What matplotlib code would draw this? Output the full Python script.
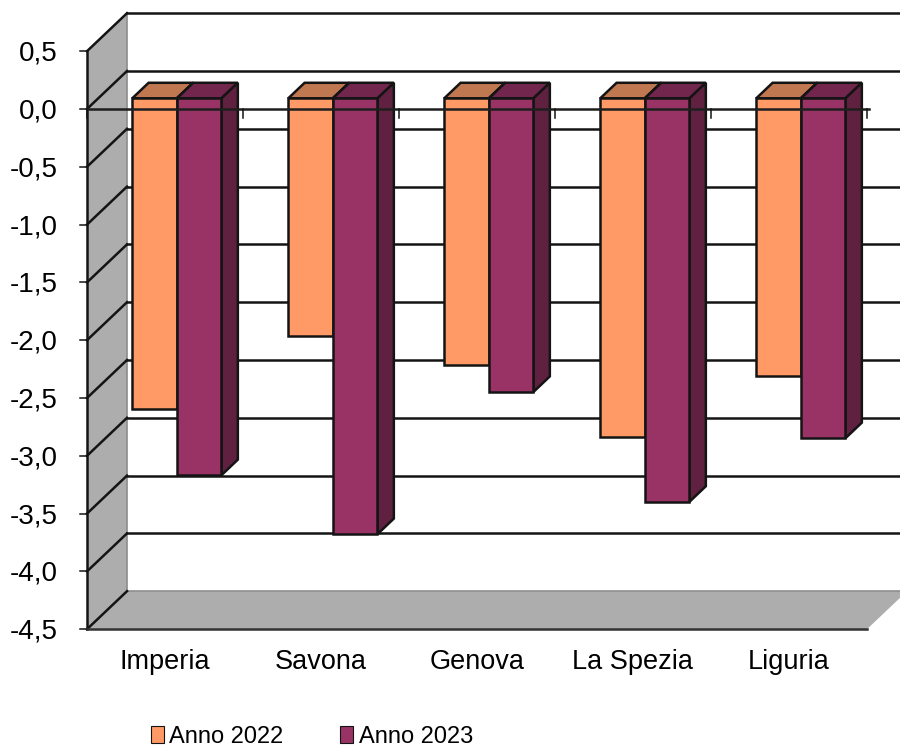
import matplotlib
matplotlib.use('Agg')
import matplotlib.pyplot as plt
from matplotlib.patches import Polygon, Patch

plt.rcParams['font.family'] = ['Liberation Sans', 'DejaVu Sans']

# Data
categories = ['Imperia', 'Savona', 'Genova', 'La Spezia', 'Liguria']
anno_2022 = [-2.69, -2.06, -2.31, -2.93, -2.40]
anno_2023 = [-3.26, -3.77, -2.54, -3.49, -2.94]
y_ticks = [0.5, 0.0, -0.5, -1.0, -1.5, -2.0, -2.5, -3.0, -3.5, -4.0, -4.5]

# Layout in pixels, turned into data units below
W, H = 900, 747
PX_X0, PX_CAT = 87, 156
PX_Y0, PX_UNIT = 109, 115.6
DX = 40 / PX_CAT     # depth shift, one category = 1
DY = 38 / PX_UNIT    # depth shift, one value unit = 1
D_FRONT, D_BACK = 0.28, 0.69
BAR_START, BAR_W = 0.218, 0.286

LINE = '#141414'
WALL = '#adadad'
LW = 1.8


# Project a point of the 3d box onto the page
def proj(x, v, d=0.0):
    return (x + d * DX, v + d * DY)


def face(ax, pts, color, z, lw=LW):
    ax.add_patch(Polygon(pts, closed=True, facecolor=color, edgecolor=LINE,
                         linewidth=lw, joinstyle='miter', zorder=z))


def bar3d(ax, x0, x1, v, front, top, side, z):
    # bars hang from zero, the top sits on the zero plane
    face(ax, [proj(x0, 0, D_FRONT), proj(x1, 0, D_FRONT),
              proj(x1, 0, D_BACK), proj(x0, 0, D_BACK)], top, z)
    face(ax, [proj(x1, 0, D_FRONT), proj(x1, 0, D_BACK),
              proj(x1, v, D_BACK), proj(x1, v, D_FRONT)], side, z)
    face(ax, [proj(x0, 0, D_FRONT), proj(x1, 0, D_FRONT),
              proj(x1, v, D_FRONT), proj(x0, v, D_FRONT)], front, z)


fig = plt.figure(figsize=(W / 100, H / 100), dpi=100)
ax = fig.add_axes([0, 0, 1, 1])
ax.set_xlim(-PX_X0 / PX_CAT, (W - PX_X0) / PX_CAT)
ax.set_ylim((PX_Y0 - H) / PX_UNIT, PX_Y0 / PX_UNIT)
ax.axis('off')

n = len(categories)
v_top, v_bot = y_ticks[0], y_ticks[-1]

# Side wall and floor
ax.add_patch(Polygon([proj(0, v_top), proj(0, v_top, 1), proj(0, v_bot, 1), proj(0, v_bot)],
                     facecolor=WALL, edgecolor='none', zorder=1))
ax.add_patch(Polygon([proj(0, v_bot), proj(n, v_bot), proj(n, v_bot, 1), proj(0, v_bot, 1)],
                     facecolor=WALL, edgecolor='none', zorder=1))

# Soft inner edges of the wall and floor
back_top, back_bot, back_right = proj(0, v_top, 1), proj(0, v_bot, 1), proj(n, v_bot, 1)
ax.plot([back_top[0], back_bot[0]], [back_top[1], back_bot[1]], color='#8c8c8c', lw=1.2, zorder=1.5)
ax.plot([back_bot[0], back_right[0]], [back_bot[1], back_right[1]], color='#8c8c8c', lw=1.2, zorder=1.5)

# Gridlines on the back wall and side wall, ticks and labels
for v in y_ticks:
    a, b, c = proj(0, v), proj(0, v, 1), proj(n, v, 1)
    ax.plot([a[0], b[0]], [a[1], b[1]], color=LINE, lw=LW, zorder=2)
    if v != v_bot:
        ax.plot([b[0], c[0]], [b[1], c[1]], color=LINE, lw=LW, zorder=2)
    ax.plot([-7 / PX_CAT, 0], [v, v], color=LINE, lw=1.1, zorder=2)
    ax.text(-29 / PX_CAT, v - 2.5 / PX_UNIT, f'{v:.1f}'.replace('.', ','), ha='right', va='center',
            fontsize=20, color='black')

# Left axis and front floor edge
ax.plot([0, 0], [v_top, v_bot], color=LINE, lw=LW, zorder=2)
ax.plot([0, n], [v_bot, v_bot], color='#333333', lw=LW, zorder=2)

# Bars
for i in range(n):
    x0 = i + BAR_START
    bar3d(ax, x0, x0 + BAR_W, anno_2022[i], '#FF9966', '#C07850', '#A86540', 3 + i * 0.1)
    bar3d(ax, x0 + BAR_W, x0 + 2 * BAR_W, anno_2023[i], '#993366', '#73264D', '#60203F', 3.05 + i * 0.1)

# Zero line with category ticks runs in front of the bars
ax.plot([0, n + 2 / PX_CAT], [0, 0], color='#1e1e1e', lw=LW, zorder=5)
for i in range(n + 1):
    ax.plot([i, i], [0, -9 / PX_UNIT], color=LINE, lw=1.1, zorder=5)

for i, name in enumerate(categories):
    ax.text(i + 0.5, v_bot - 33 / PX_UNIT, name, ha='center', va='center',
            fontsize=19.5, color='black')

handles = [Patch(facecolor='#FF9966', edgecolor=LINE, linewidth=0.8, label='Anno 2022'),
           Patch(facecolor='#993366', edgecolor=LINE, linewidth=0.8, label='Anno 2023')]
ax.legend(handles=handles, loc='center', bbox_to_anchor=(312 / W, 1 - 737 / H), ncol=2, frameon=False,
          fontsize=17, handlelength=0.55, handleheight=0.7, handletextpad=0.25,
          columnspacing=2.4, borderpad=0, borderaxespad=0)

fig.savefig('out.png', dpi=100)
